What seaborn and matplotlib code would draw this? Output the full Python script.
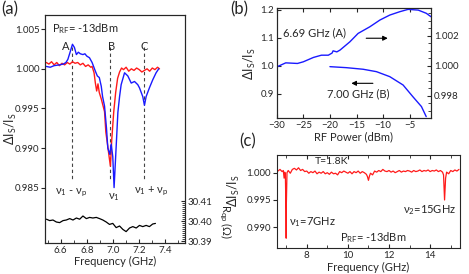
import numpy as np
import pandas as pd
import seaborn as sns
import matplotlib
matplotlib.use("Agg")
import matplotlib.pyplot as plt
from matplotlib.ticker import FixedLocator, FormatStrFormatter, MultipleLocator

# ---------------- data: panel (a) ----------------
fa_red = [6.49, 6.51, 6.53, 6.55, 6.57, 6.59, 6.61, 6.63, 6.65, 6.67, 6.69, 6.71, 6.73, 6.75,
          6.77, 6.79, 6.81, 6.83, 6.84, 6.855, 6.865, 6.875, 6.885, 6.895, 6.91, 6.935, 6.945,
          6.96, 6.97, 6.98, 6.99, 7.005, 7.02, 7.035, 7.05, 7.065, 7.08, 7.10, 7.12, 7.14, 7.16,
          7.18, 7.20, 7.22, 7.24, 7.26, 7.28, 7.30, 7.32, 7.34, 7.355]
va_red = [1.0008, 1.0006, 1.0009, 1.0005, 1.0008, 1.0004, 1.0007, 1.0005, 1.0008, 1.0006, 1.0009,
          1.0007, 1.0008, 1.0005, 1.0007, 1.0003, 1.0005, 1.0002, 1.0003, 0.9995, 0.9982, 0.9972,
          0.9981, 0.9970, 0.9962, 0.9946, 0.9920, 0.9902, 0.9889, 0.9877, 0.9910, 0.9945, 0.9970,
          0.9988, 0.9996, 1.0001, 0.9999, 1.0002, 0.9997, 1.0000, 0.9998, 1.0001, 0.9999, 0.9996,
          0.9998, 1.0000, 0.9997, 1.0001, 0.9999, 1.0002, 1.0000]

fa_blue = [6.49, 6.52, 6.55, 6.59, 6.62, 6.64, 6.655, 6.67, 6.69, 6.705, 6.72, 6.735, 6.75, 6.77,
           6.785, 6.80, 6.82, 6.84, 6.865, 6.88, 6.895, 6.91, 6.92, 6.935, 6.95, 6.96, 6.975,
           6.986, 6.998, 7.008, 7.024, 7.037, 7.05, 7.062, 7.088, 7.113, 7.139, 7.164, 7.189,
           7.202, 7.227, 7.24, 7.253, 7.278, 7.303, 7.329, 7.349]
va_blue = [1.0003, 1.0002, 1.0004, 1.0005, 1.0006, 1.0008, 1.0012, 1.0020, 1.0031, 1.0027, 1.0018,
           1.0021, 1.0019, 1.0018, 1.0019, 1.0016, 1.0014, 1.0008, 0.9997, 0.9991, 0.9989, 0.9978,
           0.9965, 0.9953, 0.9925, 0.9900, 0.9892, 0.9905, 0.9889, 0.9850, 0.9902, 0.9945, 0.9965,
           0.9980, 0.9995, 0.9991, 0.9982, 0.9984, 0.9980, 0.9976, 0.9965, 0.9954, 0.9965, 0.9976,
           0.9986, 0.9995, 1.0000]

fa_rqp = [6.491, 6.516, 6.541, 6.567, 6.592, 6.618, 6.643, 6.669, 6.694, 6.72, 6.745, 6.77, 6.796,
          6.821, 6.846, 6.872, 6.897, 6.922, 6.948, 6.973, 6.998, 7.024, 7.05, 7.075, 7.10, 7.126,
          7.151, 7.177, 7.202, 7.227, 7.253, 7.278, 7.303, 7.324]
rqp = [30.4009, 30.4002, 30.4005, 30.3995, 30.3992, 30.4002, 30.4005, 30.4012, 30.4005, 30.4015,
       30.4009, 30.4025, 30.4012, 30.4018, 30.4015, 30.4018, 30.4012, 30.4005, 30.3995, 30.3983,
       30.3988, 30.3967, 30.3975, 30.3958, 30.3947, 30.3965, 30.3972, 30.3965, 30.3978, 30.3972,
       30.3978, 30.3972, 30.3985, 30.3988]

mark_freqs = [6.69, 6.98, 7.235]
mark_letters = ["A", "B", "C"]

# ---------------- data: panel (b) ----------------
pw_A = [-30, -28.3, -26.1, -25, -23.1, -21.6, -20.3, -19.6, -19.4, -18.7, -18.1, -16.25, -14.7,
        -12.5, -10.6, -8.75, -6.9, -5.3, -3.4, -1.9, -1.0]
v_A = [0.99993, 1.0002, 1.00016, 1.00027, 1.00056, 1.00071, 1.00071, 1.00085, 1.0010, 1.00093,
       1.00105, 1.0016, 1.00216, 1.0026, 1.00305, 1.00338, 1.0036, 1.00376, 1.00371, 1.0035, 1.00327]
pw_B = [-20, -16.9, -13.75, -11.25, -8.75, -6.25, -4.4, -2.8, -1.9]
v_B = [0.9975, 0.9939, 0.9882, 0.9796, 0.9618, 0.932, 0.890, 0.855, 0.819]

# ---------------- data: panel (c) ----------------
fc = [6.60, 6.70, 6.80, 6.86, 6.90, 6.93, 6.96, 6.99, 7.00, 7.01, 7.04, 7.10, 7.20, 7.30, 7.40,
      7.50, 7.60, 7.70, 7.80, 7.90, 8.00, 8.10, 8.20, 8.30, 8.40, 8.50, 8.60, 8.70, 8.80, 8.90,
      9.00, 9.10, 9.20, 9.30, 9.40, 9.50, 9.60, 9.70, 9.80, 9.90, 10.00, 10.10, 10.20, 10.30,
      10.40, 10.50, 10.60, 10.70, 10.80, 10.90, 10.95, 11.00, 11.05, 11.10, 11.20, 11.30, 11.40,
      11.50, 11.60, 11.70, 11.80, 11.90, 12.00, 12.10, 12.20, 12.30, 12.40, 12.50, 12.60, 12.70,
      12.80, 12.90, 13.00, 13.10, 13.20, 13.30, 13.40, 13.50, 13.60, 13.70, 13.80, 13.90, 14.00,
      14.10, 14.20, 14.30, 14.40, 14.50, 14.60, 14.65, 14.70, 14.75, 14.80, 14.90, 15.00, 15.10,
      15.20, 15.30, 15.40]
vc = [1.0003, 1.0006, 1.0002, 1.0004, 0.9990, 1.0001, 0.9998, 0.9930, 0.9880, 0.9945, 1.0000,
      1.0004, 0.9999, 1.0006, 1.0008, 1.0005, 1.0009, 1.0004, 1.0006, 1.0002, 1.0003, 0.9999,
      1.0002, 1.0000, 1.0003, 0.9998, 1.0001, 0.9999, 1.0002, 0.9998, 1.0000, 0.9997, 1.0001,
      0.9998, 0.9999, 0.9996, 1.0002, 1.0000, 1.0003, 1.0001, 0.9999, 1.0002, 0.9998, 1.0002,
      1.0000, 1.0003, 0.9999, 1.0002, 1.0000, 0.9997, 0.9993, 0.9986, 0.9994, 0.9999, 0.9996,
      1.0003, 1.0001, 1.0004, 1.0002, 1.0006, 1.0003, 1.0002, 1.0004, 1.0001, 1.0003, 1.0000,
      1.0002, 1.0004, 1.0001, 1.0003, 1.0002, 1.0004, 1.0003, 1.0001, 1.0004, 1.0002, 1.0003,
      1.0005, 1.0002, 1.0004, 1.0003, 1.0005, 1.0002, 1.0004, 1.0003, 1.0005, 1.0002, 1.0004,
      1.0001, 0.9996, 0.9950, 0.9990, 1.0001, 0.9998, 1.0004, 1.0002, 1.0005, 1.0003, 1.0006]

# ---------------- style ----------------
sns.set_theme(style="ticks")
plt.rcParams["font.family"] = ["Lato", "DejaVu Sans"]
plt.rcParams["mathtext.fontset"] = "custom"
plt.rcParams["mathtext.rm"] = "Lato"
plt.rcParams["mathtext.it"] = "Lato:italic"
plt.rcParams["mathtext.default"] = "regular"
plt.rcParams["axes.linewidth"] = 0.8
plt.rcParams["xtick.major.width"] = 0.8
plt.rcParams["ytick.major.width"] = 0.8
plt.rcParams["xtick.minor.width"] = 0.6
plt.rcParams["ytick.minor.width"] = 0.6

RED = "#ff1a1a"
BLUE = "#1a1aff"
TS = 7
LS = 8

fig = plt.figure(figsize=(4.69, 2.74), dpi=100)

# ================= panel (a) =================
axa = fig.add_axes([0.0959, 0.1131, 0.2986, 0.8322])
sns.lineplot(x=fa_red, y=va_red, ax=axa, color=RED, lw=1.0, sort=False)
sns.lineplot(x=fa_blue, y=va_blue, ax=axa, color=BLUE, lw=1.0, sort=False)
for f in mark_freqs:
    axa.plot([f, f], [1.0027, 0.9860], color="#444444", lw=0.8, ls=(0, (3, 2.5)), zorder=0)
axa.set_xlim(6.48, 7.55)
axa.set_ylim(0.978, 1.0068)
axa.set_yticks([0.985, 0.990, 0.995, 1.000, 1.005])
axa.yaxis.set_major_formatter(FormatStrFormatter("%.3f"))
axa.set_xticks([6.6, 6.8, 7.0, 7.2, 7.4])
axa.xaxis.set_major_formatter(FormatStrFormatter("%.1f"))
axa.xaxis.set_minor_locator(MultipleLocator(0.1))
axa.tick_params(axis="x", which="both", direction="in", labelsize=TS, pad=2)
axa.tick_params(axis="x", which="major", length=3)
axa.tick_params(axis="x", which="minor", length=2)
axa.tick_params(axis="y", direction="out", length=3, labelsize=TS, pad=1)
axa.set_xlabel("Frequency (GHz)", fontsize=LS, labelpad=1)
axa.set_ylabel(r"$\Delta I_S/I_S$", fontsize=9)
axa.yaxis.set_label_coords(-0.185, 0.5)

axa.text(6.535, 1.0051, r"$P_{RF}$= -13dBm", fontsize=LS, ha="left", va="center")
letter_x = [6.64, 6.985, 7.235]
for lx, lt in zip(letter_x, mark_letters):
    axa.text(lx, 1.00285, lt, fontsize=LS, ha="center", va="center")
axa.text(6.68, 0.9844, r"$\nu_1$ - $\nu_p$", fontsize=LS, ha="center", va="center")
axa.text(7.005, 0.9838, r"$\nu_1$", fontsize=LS, ha="center", va="center")
axa.text(7.16, 0.9845, r"$\nu_1$ + $\nu_p$", fontsize=LS, ha="left", va="center")

axr = axa.twinx()
sns.lineplot(x=fa_rqp, y=rqp, ax=axr, color="black", lw=0.9, sort=False)
axr.set_ylim(30.389, 30.503)
axr.yaxis.set_major_locator(FixedLocator([30.39, 30.40, 30.41]))
axr.yaxis.set_minor_locator(FixedLocator([30.39 + 0.001 * i for i in range(21)]))
axr.yaxis.set_major_formatter(FormatStrFormatter("%.2f"))
axr.tick_params(axis="y", which="both", direction="in", labelsize=TS, pad=2)
axr.tick_params(axis="y", which="major", length=3)
axr.tick_params(axis="y", which="minor", length=2)
axr.set_ylabel("")
axr.text(1.285, 0.095, r"$R_{qp}$ ($\Omega$)", transform=axr.transAxes, rotation=-90,
         fontsize=LS, ha="center", va="center")
fig.text(0.002, 0.995, "(a)", fontsize=12, ha="left", va="top")

# ================= panel (b) =================
axb = fig.add_axes([0.590, 0.5682, 0.329, 0.4026])
sns.lineplot(x=pw_B, y=v_B, ax=axb, color=BLUE, lw=1.0, sort=False)
axb.set_xlim(-30, -1)
axb.set_ylim(0.813, 1.207)
axb.set_yticks([0.9, 1.0, 1.1, 1.2])
axb.yaxis.set_major_formatter(FormatStrFormatter("%.1f"))
axb.set_xticks([-30, -25, -20, -15, -10, -5])
axb.tick_params(axis="both", direction="in", length=3, labelsize=TS, pad=2,
                top=True)
axb.set_xlabel("RF Power (dBm)", fontsize=LS, labelpad=1)
axb.set_ylabel(r"$\Delta I_S/I_S$", fontsize=9)
axb.yaxis.set_label_coords(-0.12, 0.5)
axb.annotate("", xy=(-16.5, 0.938), xytext=(-11.4, 0.938),
             arrowprops=dict(arrowstyle="-|>", color="black", lw=0.8, mutation_scale=7))
axb.text(-20.5, 0.900, "7.00 GHz (B)", fontsize=LS, ha="left", va="center")
axb.text(-28.9, 1.117, "6.69 GHz (A)", fontsize=LS, ha="left", va="center")
axb.annotate("", xy=(-8.6, 1.099), xytext=(-13.7, 1.099),
             arrowprops=dict(arrowstyle="-|>", color="black", lw=0.8, mutation_scale=7))

axb2 = axb.twinx()
sns.lineplot(x=pw_A, y=v_A, ax=axb2, color=BLUE, lw=1.0, sort=False)
axb2.set_ylim(0.99651, 1.00385)
axb2.set_yticks([0.998, 1.000, 1.002])
axb2.yaxis.set_minor_locator(MultipleLocator(0.0005))
axb2.yaxis.set_major_formatter(FormatStrFormatter("%.3f"))
axb2.tick_params(axis="y", which="both", direction="in", labelsize=TS, pad=2)
axb2.tick_params(axis="y", which="major", length=3)
axb2.tick_params(axis="y", which="minor", length=2)
axb2.set_ylabel("")
fig.text(0.490, 0.995, "(b)", fontsize=12, ha="left", va="top")

# ================= panel (c) =================
axc = fig.add_axes([0.590, 0.0938, 0.3908, 0.3405])
sns.lineplot(x=fc, y=vc, ax=axc, color=RED, lw=0.9, sort=False)
axc.set_xlim(6.54, 15.45)
axc.set_ylim(0.98615, 1.00324)
axc.set_yticks([0.990, 0.995, 1.000])
axc.yaxis.set_major_formatter(FormatStrFormatter("%.3f"))
axc.set_xticks([8, 10, 12, 14])
axc.xaxis.set_minor_locator(FixedLocator([7, 9, 11, 13, 15]))
axc.tick_params(axis="x", which="both", direction="in", labelsize=TS, pad=2, top=True)
axc.tick_params(axis="x", which="major", length=3)
axc.tick_params(axis="x", which="minor", length=2)
axc.tick_params(axis="y", direction="out", length=3, labelsize=TS, pad=1)
axc.set_xlabel("Frequency (GHz)", fontsize=LS, labelpad=1)
axc.set_ylabel(r"$\Delta I_S/I_S$", fontsize=9)
axc.yaxis.set_label_coords(-0.19, 0.62)
axc.text(8.4, 1.0021, "T=1.8K", fontsize=LS - 0.5, ha="left", va="center")
axc.text(7.15, 0.9909, r"$\nu_1$=7GHz", fontsize=LS, ha="left", va="center")
axc.text(12.7, 0.9931, r"$\nu_2$=15GHz", fontsize=LS, ha="left", va="center")
axc.text(9.6, 0.9881, r"$P_{RF}$= -13dBm", fontsize=LS, ha="left", va="center")
fig.text(0.510, 0.515, "(c)", fontsize=12, ha="left", va="top")

fig.savefig("out.png", dpi=100)
